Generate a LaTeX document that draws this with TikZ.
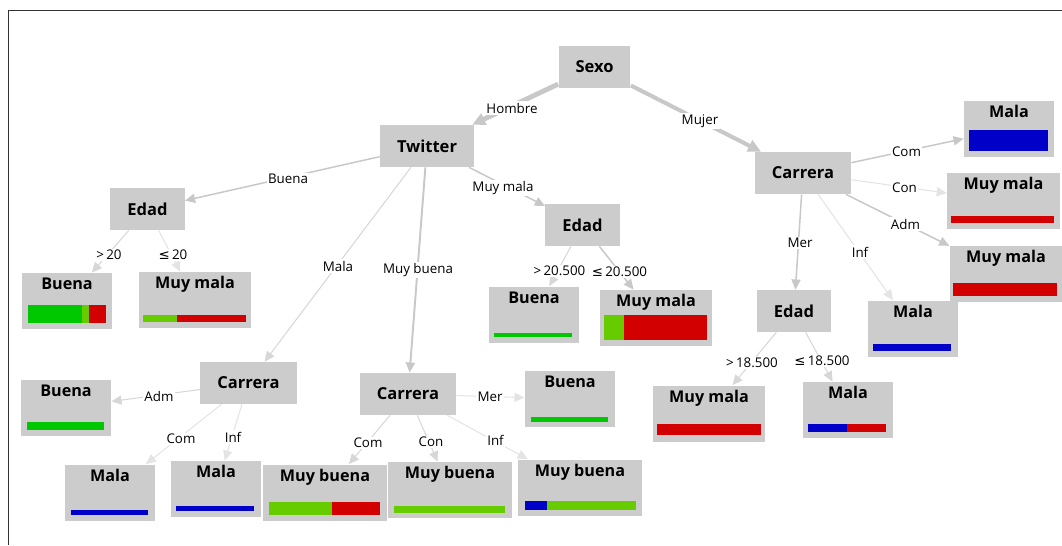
\documentclass[tikz,border=0pt]{standalone}
\usepackage{fontspec}
\setmainfont{Open Sans}
\newfontfamily\symbolFont{DejaVu Sans}
\usetikzlibrary{arrows.meta}
\definecolor{boxGray}{RGB}{204,204,204}
\definecolor{barGreen}{RGB}{0,200,0}
\definecolor{barLime}{RGB}{102,204,0}
\definecolor{barRed}{RGB}{210,0,0}
\definecolor{barBlue}{RGB}{0,0,200}
\definecolor{edgeDark}{RGB}{200,200,200}
\definecolor{edgeLight}{RGB}{215,215,215}
\definecolor{edgeFaint}{RGB}{228,228,228}
\newcommand{\lessEq}{{\symbolFont ≤}}
\newcommand{\barPart}[5]{%%
  \fill[#5] (#1,#2) rectangle (#3,#4);
}

\begin{document}
\begin{tikzpicture}[%%
  x=0.02cm,y=-0.02cm,%%
  frameStyle/.style={draw=black!80,line width=0.8pt},%%
  splitStyle/.style={fill=boxGray,minimum height=0.84cm,inner xsep=0.34cm,inner ysep=0pt,font=\fontsize{9.4}{11}\selectfont\bfseries},%%
  leafStyle/.style={fill=boxGray,minimum width=1.8cm,inner xsep=0.33cm,inner ysep=0pt,text height=0.33cm,text depth=0.79cm,font=\fontsize{9.2}{11}\selectfont\bfseries},%%
  labelStyle/.style={fill=white,inner sep=0.8pt,font=\fontsize{7.6}{9}\selectfont},%%
  heavyEdge/.style={-{Triangle[length=7.4pt,width=6.8pt]},draw=edgeDark,line width=2.8pt},%%
  midEdge/.style={-{Triangle[length=5.8pt,width=5.2pt]},draw=edgeDark,line width=0.85pt},%%
  thinEdge/.style={-{Triangle[length=5.8pt,width=5.2pt]},draw=edgeLight,line width=0.6pt},%%
  faintEdge/.style={-{Triangle[length=5.8pt,width=5.2pt]},draw=edgeFaint,line width=0.6pt}%%
]
\useasboundingbox (0,0) rectangle (1062,545);
%% The frame round the tree.
\draw[frameStyle] (1062,10.5) -- (8.5,10.5) -- (8.5,545);
%% Split nodes.
\node[splitStyle] (sexo) at (594.5,67) {Sexo};
\node[splitStyle] (twitter) at (427,146) {Twitter};
\node[splitStyle] (edadA) at (147.5,209) {Edad};
\node[splitStyle] (edadB) at (582.5,225) {Edad};
\node[splitStyle] (carreraR) at (803,173) {Carrera};
\node[splitStyle] (edadC) at (794,311) {Edad};
\node[splitStyle] (carreraL) at (248.5,383) {Carrera};
\node[splitStyle] (carreraM) at (408,394) {Carrera};
%% Leaf nodes.
\node[leafStyle] (buenaA) at (67,301) {Buena};
\node[leafStyle] (muyMalaA) at (195,300) {Muy mala};
\node[leafStyle] (buenaB) at (534,314.5) {Buena};
\node[leafStyle] (muyMalaB) at (656,318) {Muy mala};
\node[leafStyle] (buenaC) at (66,407.5) {Buena};
\node[leafStyle] (malaA) at (110,492.5) {Mala};
\node[leafStyle] (malaB) at (216,489) {Mala};
\node[leafStyle] (muyBuenaA) at (325,492.5) {Muy buena};
\node[leafStyle] (muyBuenaB) at (450,490) {Muy buena};
\node[leafStyle] (muyBuenaC) at (580,487.5) {Muy buena};
\node[leafStyle] (buenaD) at (570,399) {Buena};
\node[leafStyle] (malaC) at (1009,129) {Mala};
\node[leafStyle] (muyMalaC) at (1003.5,201) {Muy mala};
\node[leafStyle] (muyMalaD) at (1006,274) {Muy mala};
\node[leafStyle] (malaD) at (913,328.5) {Mala};
\node[leafStyle] (muyMalaE) at (709,413.5) {Muy mala};
\node[leafStyle] (malaE) at (848,410) {Mala};
%% Class bars of the leaves.
\barPart{28}{305}{82}{323}{barGreen}
\barPart{82}{305}{89}{323}{barLime}
\barPart{89}{305}{106}{323}{barRed}
\barPart{143}{315}{177}{322}{barLime}
\barPart{177}{315}{246}{322}{barRed}
\barPart{494}{333}{572}{337}{barGreen}
\barPart{604}{315}{624}{340}{barLime}
\barPart{624}{315}{707}{340}{barRed}
\barPart{27}{422}{104}{430}{barGreen}
\barPart{71}{510}{148}{515}{barBlue}
\barPart{176}{506}{254}{511}{barBlue}
\barPart{269}{502}{332}{515}{barLime}
\barPart{332}{502}{380}{515}{barRed}
\barPart{394}{506}{505}{513}{barLime}
\barPart{525}{501}{547}{510}{barBlue}
\barPart{547}{501}{636}{510}{barLime}
\barPart{531}{417}{608}{422}{barGreen}
\barPart{969}{130}{1048}{151}{barBlue}
\barPart{951}{216}{1054}{223}{barRed}
\barPart{953}{283}{1057}{296}{barRed}
\barPart{873}{344}{951}{351}{barBlue}
\barPart{657}{424}{761}{435}{barRed}
\barPart{808}{424}{847}{432}{barBlue}
\barPart{847}{424}{886}{432}{barRed}
%% Branches.
\draw[heavyEdge] (sexo) -- (twitter);
\draw[heavyEdge,line width=2.3pt] (sexo) -- (carreraR);
\draw[midEdge] (twitter) -- (edadA);
\draw[thinEdge] (twitter) -- (carreraL);
\draw[midEdge,line width=1.1pt] (twitter) -- (carreraM);
\draw[midEdge] (twitter) -- (edadB);
\draw[thinEdge] (edadA) -- (buenaA);
\draw[faintEdge] (edadA) -- (muyMalaA);
\draw[thinEdge] (edadB) -- (buenaB);
\draw[midEdge] (edadB) -- (muyMalaB);
\draw[thinEdge] (carreraL) -- (buenaC);
\draw[faintEdge] (carreraL) -- (malaA);
\draw[faintEdge] (carreraL) -- (malaB);
\draw[faintEdge] (carreraM) -- (buenaD);
\draw[thinEdge] (carreraM) -- (muyBuenaA);
\draw[thinEdge] (carreraM) -- (muyBuenaB);
\draw[faintEdge] (carreraM) -- (muyBuenaC);
\draw[midEdge] (carreraR) -- (malaC);
\draw[faintEdge] (carreraR) -- (muyMalaC);
\draw[midEdge] (carreraR) -- (muyMalaD);
\draw[midEdge] (carreraR) -- (edadC);
\draw[faintEdge] (carreraR) -- (malaD);
\draw[thinEdge] (edadC) -- (muyMalaE);
\draw[thinEdge] (edadC) -- (malaE);
%% Branch labels.
\node[labelStyle] (lblHombre) at (512,108) {Hombre};
\node[labelStyle] (lblMujer) at (700,121) {Mujer};
\node[labelStyle] (lblBuena) at (288,179) {Buena};
\node[labelStyle] (lblMala) at (338,266) {Mala};
\node[labelStyle] (lblMuyBuena) at (418,270) {Muy buena};
\node[labelStyle] (lblMuyMala) at (503,188) {Muy mala};
\node[labelStyle] (lblMayorA) at (109,255) {>\,20};
\node[labelStyle] (lblMenorA) at (173,255) {\lessEq\,20};
\node[labelStyle] (lblMayorB) at (559.5,271) {>\,20.500};
\node[labelStyle] (lblMenorB) at (619.5,272) {\lessEq\,20.500};
\node[labelStyle] (lblAdmL) at (159,396) {Adm};
\node[labelStyle] (lblComL) at (181,439) {Com};
\node[labelStyle] (lblInfL) at (233,437) {Inf};
\node[labelStyle] (lblMerM) at (490,397) {Mer};
\node[labelStyle] (lblComM) at (368,443) {Com};
\node[labelStyle] (lblConM) at (431,442) {Con};
\node[labelStyle] (lblInfM) at (495.5,440) {Inf};
\node[labelStyle] (lblComR) at (906.5,152) {Com};
\node[labelStyle] (lblConR) at (904.5,188) {Con};
\node[labelStyle] (lblAdmR) at (905.5,224) {Adm};
\node[labelStyle] (lblMerR) at (800,243) {Mer};
\node[labelStyle] (lblInfR) at (860,252) {Inf};
\node[labelStyle] (lblMayorC) at (752,363) {>\,18.500};
\node[labelStyle] (lblMenorC) at (822,361) {\lessEq\,18.500};
\end{tikzpicture}
\end{document}
